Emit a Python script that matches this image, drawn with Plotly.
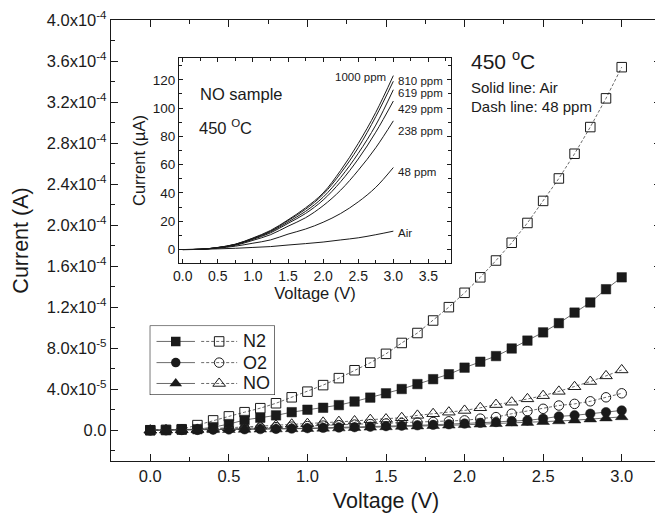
import plotly.graph_objects as go

# ---------------- data ----------------
voltage = [round(0.1 * i, 1) for i in range(31)]

# main chart currents (units of 1e-4 A)
n2_air = [0.0, 0.002, 0.005, 0.01, 0.03, 0.06, 0.10, 0.122, 0.145, 0.176, 0.20, 0.219, 0.245,
          0.28, 0.318, 0.36, 0.402, 0.45, 0.498, 0.546, 0.610, 0.668, 0.723, 0.797, 0.874,
          0.954, 1.044, 1.147, 1.246, 1.375, 1.491]
n2_48 = [0.0, 0.003, 0.01, 0.05, 0.096, 0.135, 0.176, 0.215, 0.263, 0.321, 0.376, 0.44, 0.508,
         0.585, 0.658, 0.745, 0.851, 0.948, 1.07, 1.20, 1.34, 1.491, 1.655, 1.828, 2.021,
         2.236, 2.455, 2.696, 2.956, 3.236, 3.54]
o2_air = [0.0, 0.001, 0.002, 0.003, 0.005, 0.007, 0.009, 0.011, 0.013, 0.016, 0.02, 0.023,
          0.026, 0.03, 0.034, 0.04, 0.044, 0.048, 0.053, 0.058, 0.065, 0.072, 0.08, 0.09,
          0.096, 0.113, 0.135, 0.145, 0.161, 0.176, 0.193]
o2_48 = [0.0, 0.002, 0.005, 0.008, 0.012, 0.016, 0.02, 0.025, 0.03, 0.035, 0.04, 0.045, 0.05,
         0.055, 0.06, 0.065, 0.07, 0.075, 0.08, 0.087, 0.096, 0.113, 0.128, 0.161, 0.186,
         0.209, 0.241, 0.257, 0.282, 0.321, 0.36]
no_air = [0.0, 0.001, 0.002, 0.003, 0.004, 0.005, 0.007, 0.009, 0.011, 0.013, 0.015, 0.018,
          0.021, 0.024, 0.028, 0.032, 0.036, 0.04, 0.044, 0.048, 0.053, 0.058, 0.063, 0.068,
          0.074, 0.083, 0.09, 0.098, 0.108, 0.118, 0.13]
no_48 = [0.0, 0.002, 0.005, 0.008, 0.016, 0.024, 0.032, 0.039, 0.048, 0.058, 0.064, 0.077,
         0.084, 0.09, 0.103, 0.109, 0.122, 0.145, 0.161, 0.176, 0.193, 0.219, 0.25, 0.273,
         0.306, 0.337, 0.379, 0.424, 0.475, 0.53, 0.588]

# inset (NO sample, 450 C), current in uA
inset_v = [0.0, 0.25, 0.5, 0.75, 1.0, 1.25, 1.5, 1.75, 2.0, 2.25, 2.5, 2.75, 3.0]
inset_labels = ["Air", "48 ppm", "238 ppm", "429 ppm", "619 ppm", "810 ppm", "1000 ppm"]
inset_air = [0, 0.2, 0.5, 0.9, 1.5, 2.1, 3.2, 4.2, 5.3, 6.8, 8.3, 10.5, 13]
inset_48 = [0, 0.3, 1.0, 2.4, 4.5, 6.8, 10.9, 14.5, 19.3, 25.5, 33.7, 44, 58]
inset_238 = [0, 0.2, 1.2, 3.0, 6.5, 10.5, 16.5, 22.5, 31, 42, 56, 72, 91]
inset_429 = [0, 0.2, 1.3, 3.4, 7.2, 11.8, 18.5, 25.5, 35, 48, 64, 83, 105]
inset_619 = [0, 0.2, 1.4, 3.6, 7.6, 12.5, 19.5, 27, 37, 51, 68, 88, 113]
inset_810 = [0, 0.2, 1.4, 3.7, 7.9, 13, 20.5, 28.5, 39, 54, 72, 94, 119]
inset_1000 = [0, 0.2, 1.5, 3.8, 8.2, 13.5, 21, 29.5, 40, 56, 75, 97, 123]
inset_curves = [inset_air, inset_48, inset_238, inset_429, inset_619, inset_810, inset_1000]
inset_label_y = [12, 55, 84, 99.5, 110.5, 119, 122]

main_xticks = [0.0, 0.5, 1.0, 1.5, 2.0, 2.5, 3.0]
main_yticks = [0, 4e-5, 8e-5, 1.2e-4, 1.6e-4, 2.0e-4, 2.4e-4, 2.8e-4, 3.2e-4, 3.6e-4, 4.0e-4]
main_yticktext = ["0.0", "4.0x10<sup>-5</sup>", "8.0x10<sup>-5</sup>", "1.2x10<sup>-4</sup>",
                  "1.6x10<sup>-4</sup>", "2.0x10<sup>-4</sup>", "2.4x10<sup>-4</sup>",
                  "2.8x10<sup>-4</sup>", "3.2x10<sup>-4</sup>", "3.6x10<sup>-4</sup>",
                  "4.0x10<sup>-4</sup>"]
gases = ["N2", "O2", "NO"]

# ---------------- figure ----------------
FONT = "Arial, Liberation Sans, sans-serif"
INK = "#1a1a1a"
LINE = "#444444"

fig = go.Figure()

series = [
    (gases[0], n2_48, n2_air, "square"),
    (gases[1], o2_48, o2_air, "circle"),
    (gases[2], no_48, no_air, "triangle-up"),
]
for name, dash_vals, solid_vals, sym in series:
    size = 11 if sym == "triangle-up" else 9.5
    fig.add_trace(go.Scatter(
        x=voltage, y=[v * 1e-4 for v in dash_vals], mode="lines+markers",
        line=dict(color=LINE, width=0.8, dash="3px,2px"),
        marker=dict(symbol=sym + "-open", size=size, color=INK, line=dict(width=1, color=INK)),
        showlegend=False, name=name + " 48 ppm"))
    fig.add_trace(go.Scatter(
        x=voltage, y=[v * 1e-4 for v in solid_vals], mode="lines+markers",
        line=dict(color=LINE, width=0.8),
        marker=dict(symbol=sym, size=size, color=INK, line=dict(width=0.5, color=INK)),
        showlegend=False, name=name + " Air"))

# inset curves
for lab, ys in zip(inset_labels, inset_curves):
    fig.add_trace(go.Scatter(
        x=inset_v, y=ys, mode="lines", line=dict(color=INK, width=1, shape="spline"),
        xaxis="x2", yaxis="y2", showlegend=False, name=lab))

# custom legend (drawn in its own small axes)
rows_y = [0.775, 0.465, 0.16]
for (name, _, _, sym), ry in zip(series, rows_y):
    size = 11 if sym == "triangle-up" else 9.5
    fig.add_trace(go.Scatter(
        x=[0.05, 0.36], y=[ry, ry], mode="lines", line=dict(color=LINE, width=0.8),
        xaxis="x3", yaxis="y3", showlegend=False, hoverinfo="skip"))
    fig.add_trace(go.Scatter(
        x=[0.205], y=[ry], mode="markers",
        marker=dict(symbol=sym, size=size, color=INK),
        xaxis="x3", yaxis="y3", showlegend=False, hoverinfo="skip"))
    fig.add_trace(go.Scatter(
        x=[0.41, 0.70], y=[ry, ry], mode="lines",
        line=dict(color=LINE, width=0.8, dash="3px,2px"),
        xaxis="x3", yaxis="y3", showlegend=False, hoverinfo="skip"))
    fig.add_trace(go.Scatter(
        x=[0.555], y=[ry], mode="markers",
        marker=dict(symbol=sym + "-open", size=size, color=INK, line=dict(width=1, color=INK)),
        xaxis="x3", yaxis="y3", showlegend=False, hoverinfo="skip"))
    fig.add_annotation(x=0.735, y=ry, xref="x3", yref="y3", text=name, showarrow=False,
                       xanchor="left", yanchor="middle", font=dict(size=18, color=INK, family=FONT))

axis_common = dict(showline=True, linecolor=INK, linewidth=1.3, mirror="allticks",
                   ticks="inside", tickcolor=INK, showgrid=False, zeroline=False,
                   ticklabeloverflow="allow")

# page body has an 8px default margin, so the figure is 8px smaller and margins compensate
fig.update_layout(
    width=655, height=510,
    margin=dict(l=103, r=1, t=7, b=57),
    paper_bgcolor="white", plot_bgcolor="white",
    font=dict(family=FONT, color=INK),
    xaxis=dict(range=[-0.25, 3.25], tickvals=main_xticks, tickformat=".1f",
               ticklen=7, tickwidth=1.2,
               minor=dict(dtick=0.25, tick0=0, ticklen=4, ticks="inside", tickcolor=INK),
               tickfont=dict(size=16.5), title=dict(text="Voltage (V)", font=dict(size=21.5), standoff=8),
               **axis_common),
    yaxis=dict(range=[-3e-5, 4e-4], tickvals=main_yticks, ticktext=main_yticktext,
               ticklen=7, tickwidth=1.2,
               minor=dict(dtick=2e-5, tick0=0, ticklen=4, ticks="inside", tickcolor=INK),
               tickfont=dict(size=16.5), title=dict(text="Current (A)", font=dict(size=21.5), standoff=12),
               **axis_common),
    xaxis2=dict(domain=[0.124, 0.618], anchor="y2", range=[-0.05, 3.82],
                dtick=0.5, tick0=0, tickformat=".1f", ticklen=4, tickwidth=1,
                minor=dict(dtick=0.25, tick0=0, ticklen=2.5, ticks="inside", tickcolor=INK),
                tickfont=dict(size=14), title=dict(text="Voltage (V)", font=dict(size=16.5), standoff=1),
                **axis_common),
    yaxis2=dict(domain=[0.449, 0.914], anchor="x2", range=[-9.5, 135.5],
                dtick=20, tick0=0, ticklen=4, tickwidth=1,
                minor=dict(dtick=10, tick0=0, ticklen=2.5, ticks="inside", tickcolor=INK),
                tickfont=dict(size=13.5), title=dict(text="Current (µA)", font=dict(size=16.5), standoff=3),
                **axis_common),
    xaxis3=dict(domain=[0.0715, 0.297], anchor="y3", range=[0, 1], visible=False, fixedrange=True),
    yaxis3=dict(domain=[0.151, 0.306], anchor="x3", range=[0, 1], visible=False, fixedrange=True),
)

# inset background and legend box
fig.add_shape(type="rect", xref="x2 domain", yref="y2 domain", x0=0, x1=1, y0=0, y1=1,
              fillcolor="white", line=dict(width=0), layer="below")
fig.add_shape(type="rect", xref="x3 domain", yref="y3 domain", x0=0, x1=1, y0=0, y1=1,
              fillcolor="white", line=dict(color=INK, width=1.2), layer="below")

# inset curve labels
for lab, ly in zip(inset_labels, inset_label_y):
    if lab == "1000 ppm":
        fig.add_annotation(x=2.92, y=ly, xref="x2", yref="y2", text=lab, showarrow=False,
                           xanchor="right", yanchor="middle", font=dict(size=11.5, color=INK))
    else:
        fig.add_annotation(x=3.04, y=ly, xref="x2", yref="y2", text=lab, showarrow=False,
                           xanchor="left", yanchor="middle", font=dict(size=11.5, color=INK))

fig.add_annotation(x=0.22, y=110, xref="x2", yref="y2", text="NO sample", showarrow=False,
                   xanchor="left", yanchor="middle", font=dict(size=16.5, color=INK))
fig.add_annotation(x=0.2, y=87, xref="x2", yref="y2", text="450 <sup>O</sup>C", showarrow=False,
                   xanchor="left", yanchor="middle", font=dict(size=16.5, color=INK))

# main annotations
fig.add_annotation(x=0.65, y=0.91, xref="paper", yref="paper", text="450 <sup>o</sup>C",
                   showarrow=False, xanchor="left", yanchor="middle", font=dict(size=21, color=INK))
fig.add_annotation(x=0.65, y=0.848, xref="paper", yref="paper", text="Solid line: Air",
                   showarrow=False, xanchor="left", yanchor="middle", font=dict(size=15, color=INK))
fig.add_annotation(x=0.65, y=0.803, xref="paper", yref="paper", text="Dash line: 48 ppm",
                   showarrow=False, xanchor="left", yanchor="middle", font=dict(size=15, color=INK))

fig.write_html("out.html", config={"displayModeBar": False})
